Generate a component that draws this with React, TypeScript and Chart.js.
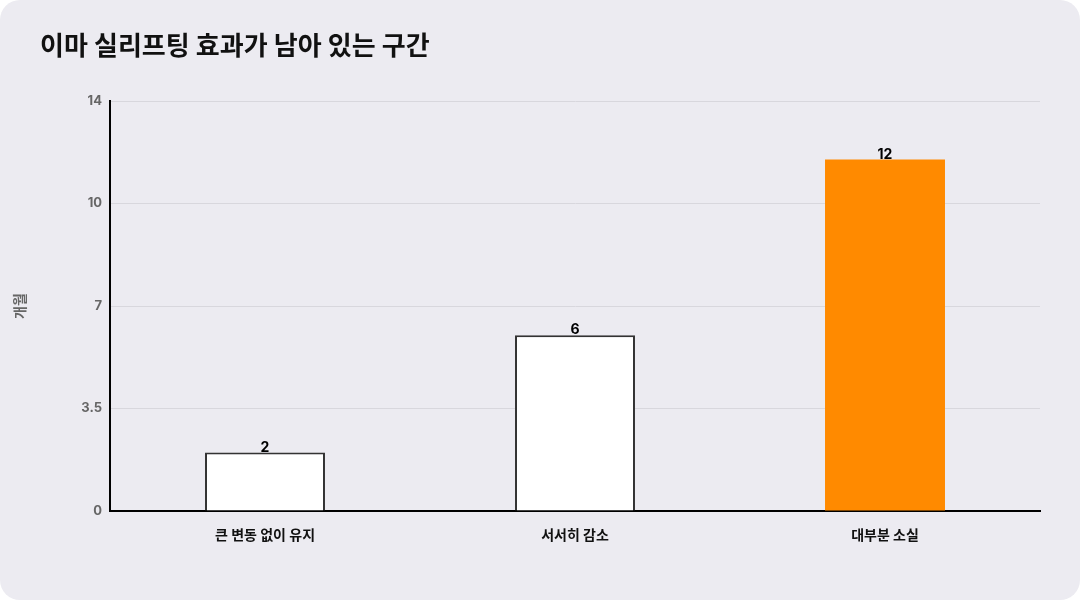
import React, { useEffect, useRef } from "react";
import { Chart, registerables } from "chart.js";

Chart.register(...registerables);

const titleText = "이마 실리프팅 효과가 남아 있는 구간";
const categories = ["큰 변동 없이 유지", "서서히 감소", "대부분 소실"];
const months = [2, 6, 12];
const yTickLabels = ["0", "3.5", "7", "10", "14"];
const yAxisTitle = "개월";

const FONT = "Inter, 'Noto Sans CJK KR', 'Noto Sans', sans-serif";

const titlePlugin = {
  id: "customTitle",
  afterDraw(chart: any) {
    const ctx = chart.ctx;
    ctx.save();
    ctx.font = `bold 26px ${FONT}`;
    ctx.fillStyle = "#111111";
    ctx.textAlign = "left";
    ctx.textBaseline = "middle";
    ctx.fillText(titleText, 40, 47);
    ctx.restore();
  },
};

const valueLabelPlugin = {
  id: "valueLabels",
  afterDatasetsDraw(chart: any) {
    const ctx = chart.ctx;
    const meta = chart.getDatasetMeta(0);
    ctx.save();
    ctx.font = `bold 14px ${FONT}`;
    ctx.fillStyle = "#000000";
    ctx.textAlign = "center";
    ctx.textBaseline = "bottom";
    meta.data.forEach((bar: any, i: number) => {
      ctx.fillText(String(months[i]), bar.x, bar.y + 2);
    });
    ctx.restore();
  },
};

export default function App() {
  const ref = useRef<HTMLCanvasElement>(null);

  useEffect(() => {
    if (!ref.current) return;
    const chart = new Chart(ref.current, {
      type: "bar",
      data: {
        labels: categories,
        datasets: [
          {
            data: months,
            backgroundColor: ["#ffffff", "#ffffff", "#ff8a00"],
            borderColor: ["#333333", "#333333", "rgba(0,0,0,0)"],
            borderWidth: [2, 2, 0],
            barPercentage: 1,
            categoryPercentage: 0.387,
          },
        ],
      },
      options: {
        animation: false,
        responsive: false,
        maintainAspectRatio: false,
        layout: { padding: { top: 101, right: 40, left: 0, bottom: 0 } },
        plugins: {
          legend: { display: false },
          tooltip: { enabled: false },
          title: { display: false },
        },
        scales: {
          x: {
            grid: { display: false },
            border: { display: true, color: "#000000", width: 2 },
            ticks: {
              color: "#111111",
              font: { family: FONT, size: 14, weight: "bold" },
              padding: 8,
            },
            afterFit(scale: any) {
              scale.height = 89;
            },
          },
          y: {
            min: 0,
            max: 14,
            grid: { color: "#d8d7dd", drawTicks: false },
            border: { display: true, color: "#000000", width: 2 },
            ticks: {
              stepSize: 3.5,
              color: "#666666",
              padding: 8,
              font: { family: FONT, size: 13, weight: "bold" },
              callback: (_v: any, i: number) => yTickLabels[i],
            },
            title: {
              display: true,
              text: yAxisTitle,
              color: "#666666",
              font: { family: FONT, size: 14, weight: "bold" },
              padding: { top: 12, bottom: 0 },
            },
            afterFit(scale: any) {
              scale.width = 110;
            },
          },
        },
      },
      plugins: [titlePlugin, valueLabelPlugin],
    });
    return () => chart.destroy();
  }, []);

  return (
    <div
      style={{
        position: "fixed",
        left: 0,
        top: 0,
        width: 1080,
        height: 600,
        background: "#ffffff",
      }}
    >
      <div
        style={{
          width: 1080,
          height: 600,
          borderRadius: 20,
          background: "#ecebf1",
          overflow: "hidden",
        }}
      >
        <canvas ref={ref} width={1080} height={600} style={{ display: "block", width: 1080, height: 600 }} />
      </div>
    </div>
  );
}
